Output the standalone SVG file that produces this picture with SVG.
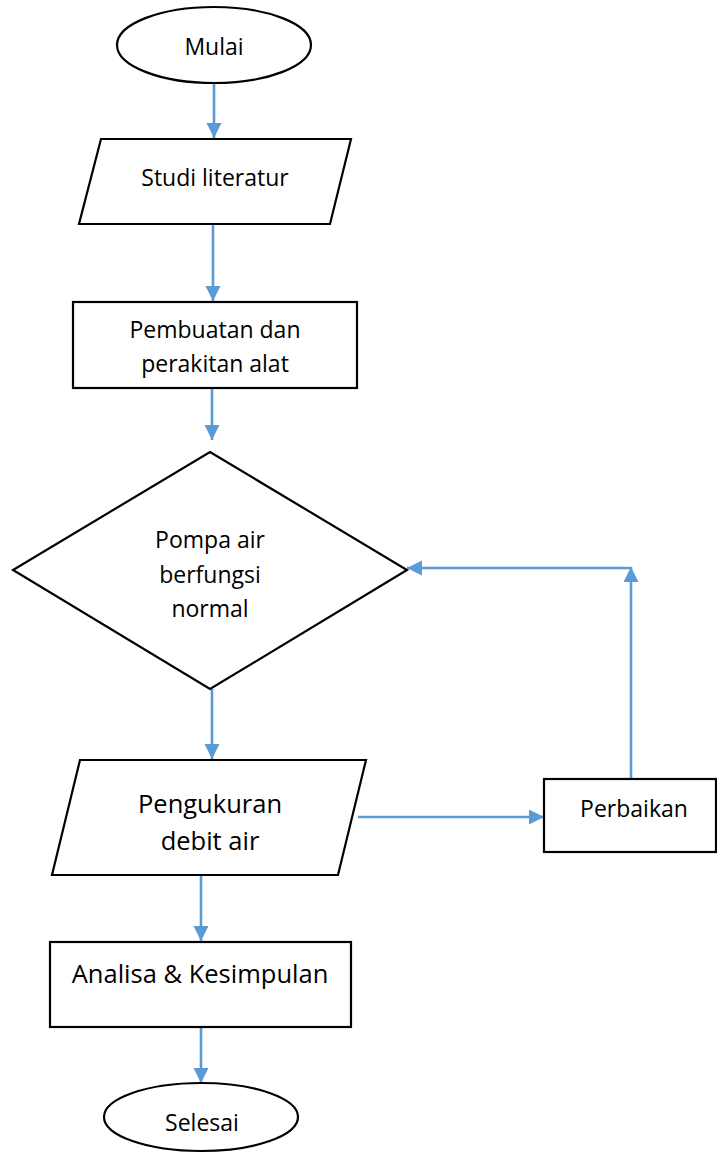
<svg xmlns="http://www.w3.org/2000/svg" width="717" height="1153" viewBox="0 0 717 1153">
<style>
.shape{fill:#fff;stroke:#000;stroke-width:2.2}
.t{font-family:"Open Sans","Liberation Sans",sans-serif;font-size:23px;fill:#000;text-anchor:middle}
.tl{font-size:25.5px}
.c{stroke:#5B9BD5;stroke-width:2.6;fill:none;marker-end:url(#ah)}
</style>
<defs>
<marker id="ah" markerUnits="userSpaceOnUse" markerWidth="16" markerHeight="16" refX="15" refY="7.5" orient="auto" viewBox="0 0 16 16">
<path d="M0,0 L15,7.5 L0,15 z" fill="#5B9BD5"/>
</marker>
</defs>
<rect width="717" height="1153" fill="#fff"/>
<g id="connectors">
<line class="c" x1="214" y1="83" x2="214" y2="138"/>
<line class="c" x1="213" y1="224" x2="213" y2="301"/>
<line class="c" x1="212" y1="388" x2="212" y2="440"/>
<line class="c" x1="212" y1="689" x2="212" y2="759"/>
<line class="c" x1="358" y1="817" x2="544" y2="817"/>
<line class="c" x1="631" y1="779" x2="631" y2="567"/>
<line class="c" x1="631" y1="568" x2="407" y2="568"/>
<line class="c" x1="201" y1="875" x2="201" y2="941"/>
<line class="c" x1="201" y1="1027" x2="201" y2="1083"/>
</g>
<g id="mulai">
<ellipse class="shape" cx="214" cy="45" rx="97" ry="38"/>
<text class="t" x="214" y="55">Mulai</text>
</g>
<g id="studi">
<polygon class="shape" points="101,139 351,139 330,224 79,224"/>
<text class="t" x="215" y="186">Studi literatur</text>
</g>
<g id="pembuatan">
<rect class="shape" x="73" y="302" width="284" height="86"/>
<text class="t" x="215" y="338">Pembuatan dan</text>
<text class="t" x="215" y="372">perakitan alat</text>
</g>
<g id="pompa">
<polygon class="shape" points="210,452 407,570 210,689 13,570"/>
<text class="t" x="210" y="548">Pompa air</text>
<text class="t" x="210" y="583">berfungsi</text>
<text class="t" x="210" y="617">normal</text>
</g>
<g id="pengukuran">
<polygon class="shape" points="80,760 366,760 338,875 52,875"/>
<text class="t tl" x="210" y="813">Pengukuran</text>
<text class="t tl" x="210" y="850">debit air</text>
</g>
<g id="perbaikan">
<rect class="shape" x="544" y="779" width="172" height="73"/>
<text class="t" x="634" y="817">Perbaikan</text>
</g>
<g id="analisa">
<rect class="shape" x="50" y="942" width="301" height="85"/>
<text class="t tl" x="200" y="983">Analisa &amp; Kesimpulan</text>
</g>
<g id="selesai">
<ellipse class="shape" cx="201" cy="1117" rx="97" ry="34"/>
<text class="t" x="202" y="1131">Selesai</text>
</g>
</svg>
